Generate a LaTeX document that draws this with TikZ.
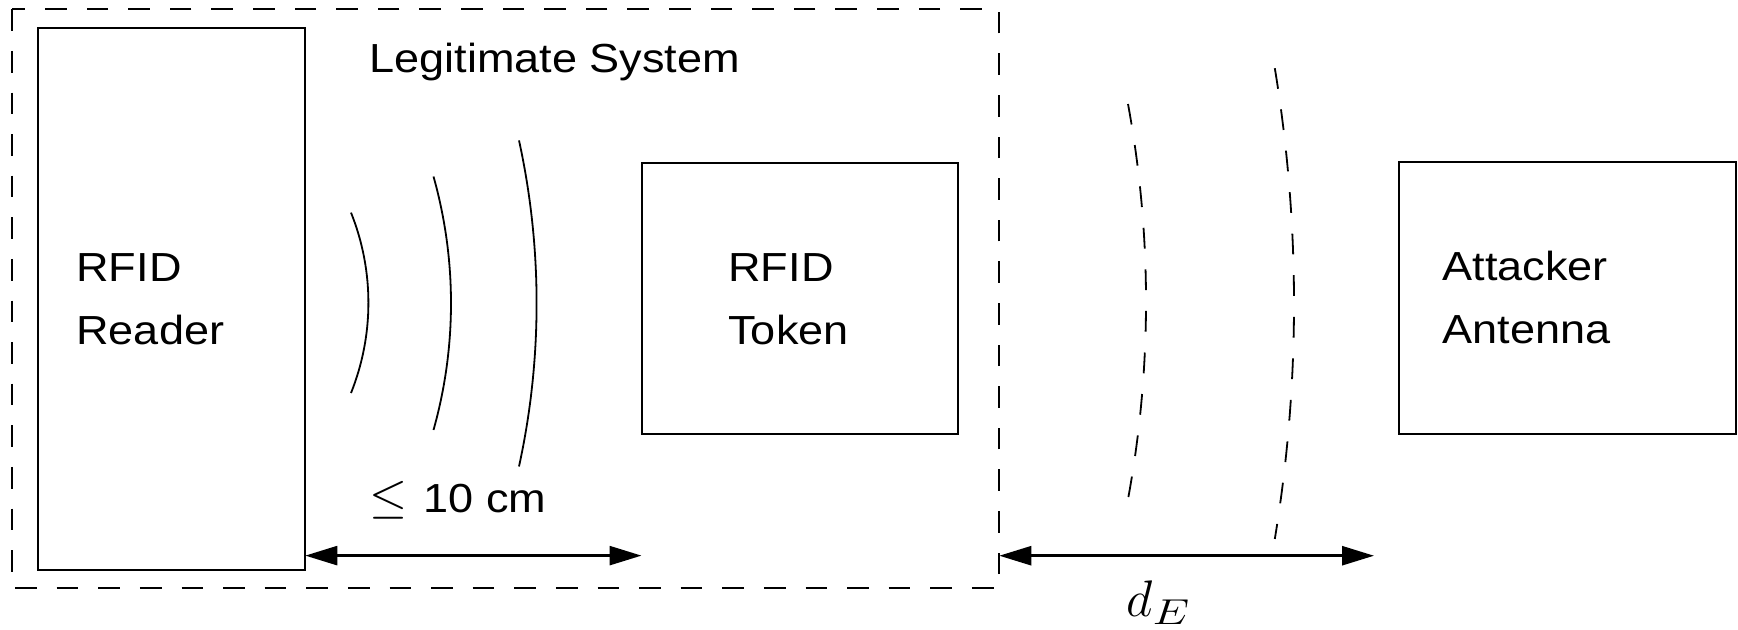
\RequirePackage{fix-cm}
\documentclass[tikz,border=0pt]{standalone}
\usepackage{fontspec}
\setmainfont{Liberation Sans}[FakeStretch=1.11]
\usetikzlibrary{arrows.meta,fit}

\tikzset{
  box/.style={draw, line width=1pt, rectangle, inner sep=0pt, outer sep=0pt},
  label/.style={anchor=base west, inner sep=0pt, font=\fontsize{20.3}{24}\selectfont},
  dashbox/.style={line width=0.9pt, dash pattern=on 10.8pt off 10pt},
  wave/.style={line width=0.9pt},
  dashwave/.style={line width=0.9pt, dash pattern=on 10.4pt off 10.4pt},
  dim/.style={line width=1.3pt, {Triangle[length=16pt,width=9.5pt]}-{Triangle[length=16pt,width=9.5pt]}}
}

\begin{document}
\begin{tikzpicture}[x=0.5pt, y=-0.5pt]
  \useasboundingbox (0,0) rectangle (1738,629);

  % boundary of the legitimate system
  \coordinate (legitNW) at (11.7,9.3);
  \coordinate (legitSE) at (999.3,588.3);
  \draw[dashbox] (legitNW) rectangle (legitSE);
  \node[label] (legitText) at (369,72) {Legitimate System};

  % devices
  \node[box, fit={(37.7,27.7) (305.3,569.6)}] (reader) {};
  \node[box, fit={(641.5,162.5) (957.8,434)}] (token) {};
  \node[box, fit={(1399,162) (1735.5,434.4)}] (attacker) {};

  \node[label] (readerA) at (76,281) {RFID};
  \node[label] (readerB) at (76,344) {Reader};
  \node[label] (tokenA) at (728,281) {RFID};
  \node[label] (tokenB) at (728,344) {Token};
  \node[label] (attackerA) at (1442,280.5) {Attacker};
  \node[label] (attackerB) at (1442,343.5) {Antenna};

  % field of the reader (circular arcs, y axis points down)
  \draw[wave] (351,212.6) arc[start angle=-21.84, end angle=21.84, radius=242.5];
  \draw[wave] (433.5,176.5) arc[start angle=-15.72, end angle=15.72, radius=467.8];
  \draw[wave] (519,140.4) arc[start angle=-12.32, end angle=12.32, radius=764.1];

  % field reaching the eavesdropper
  \draw[dashwave] (1128,104) arc[start angle=-10.42, end angle=10.42, radius=1092.5];
  \draw[dashwave] (1274.8,68.2) arc[start angle=-9.33, end angle=9.33, radius=1452];

  % distances
  \coordinate (readStart) at (reader.east |- 0,555.6);
  \coordinate (readEnd) at (token.west |- 0,555.6);
  \draw[dim] (readStart) -- (readEnd);
  \node[label] (nearText) at (369.3,512.8)
    {{\fontsize{24.5}{28}\selectfont$\leq$}\hspace{8pt}10 cm};

  \coordinate (eavStart) at (legitSE |- 0,555.7);
  \coordinate (eavEnd) at (1374,555.7);
  \draw[dim] (eavStart) -- (eavEnd);
  \node[label, font=\fontsize{25.7}{28}\selectfont] (distText) at (1126,616.6)
    {$d_{\scalebox{1.3}[1]{$\scriptstyle E$}}$};
\end{tikzpicture}
\end{document}
